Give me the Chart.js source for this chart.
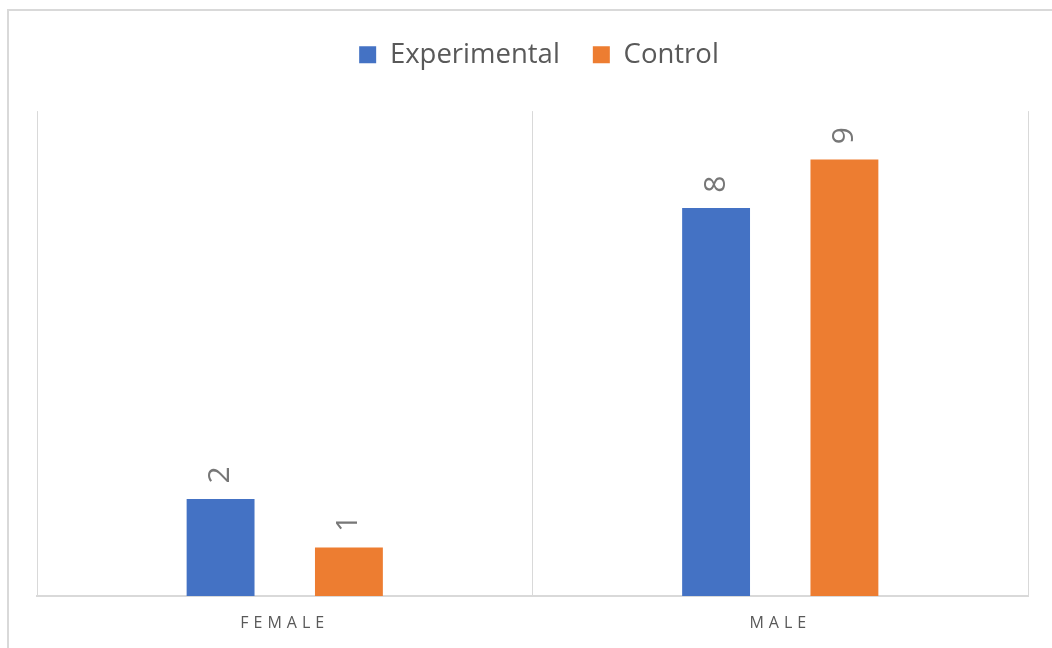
<!DOCTYPE html>
<html>
<head>
<meta charset="utf-8">
<script src="https://cdn.jsdelivr.net/npm/chart.js@4/dist/chart.umd.min.js"></script>
<style>
  html, body { margin: 0; padding: 0; background: #ffffff; }
  #wrap { position: relative; width: 1052px; height: 648px; overflow: hidden; }
  #frame { position: absolute; left: 7px; top: 9px; width: 1200px; height: 800px; border: 2px solid #d9d9d9; box-sizing: border-box; }
  canvas { position: absolute; left: 0; top: 0; }
</style>
</head>
<body>
<div id="wrap">
  <div id="frame"></div>
  <canvas id="c" width="1052" height="648"></canvas>
</div>
<script>
const categories = ["FEMALE", "MALE"];
const seriesNames = ["Experimental", "Control"];
const experimental = [2, 8];
const control = [1, 9];
const yMin = 0;
const yMax = 10;

const FONT = "'Open Sans', 'Noto Sans', sans-serif";

const legendSpacing = {
  id: 'legendSpacing',
  beforeInit(chart) {
    const legend = chart.legend;
    if (!legend) return;
    const fit = legend.fit;
    legend.fit = function () {
      fit.bind(legend)();
      this.height += 32.6;
    };
  },
  afterLayout(chart) {
    const legend = chart.legend;
    if (legend) { legend.left += 6.5; legend.right += 6.5; }
    const s = chart.scales.x;
    if (s && !s._lsWrapped) {
      const orig = s.drawLabels.bind(s);
      s.drawLabels = function (area) {
        const c = this.ctx;
        c.save();
        c.letterSpacing = '5px';
        orig(area);
        c.restore();
      };
      s._lsWrapped = true;
    }
  }
};

const barLabels = {
  id: 'barLabels',
  afterDatasetsDraw(chart) {
    const ctx = chart.ctx;
    chart.data.datasets.forEach((ds, di) => {
      const meta = chart.getDatasetMeta(di);
      meta.data.forEach((el, i) => {
        ctx.save();
        ctx.translate(el.x, el.y - 24);
        ctx.rotate(-Math.PI / 2);
        ctx.font = "30px " + FONT;
        ctx.fillStyle = '#777777';
        ctx.textAlign = 'center';
        ctx.textBaseline = 'middle';
        ctx.fillText(String(ds.data[i]), 0, 0);
        ctx.restore();
      });
    });
  }
};

new Chart(document.getElementById('c'), {
  type: 'bar',
  data: {
    labels: categories,
    datasets: [
      { label: seriesNames[0], data: experimental, backgroundColor: '#4472C4', borderWidth: 0 },
      { label: seriesNames[1], data: control, backgroundColor: '#ED7D31', borderWidth: 0 }
    ]
  },
  options: {
    responsive: false,
    animation: false,
    devicePixelRatio: 1,
    categoryPercentage: 0.518,
    barPercentage: 0.529,
    layout: { padding: { left: 37, right: 24, top: 8, bottom: 0 } },
    plugins: {
      legend: {
        display: true,
        position: 'top',
        labels: {
          boxWidth: 17,
          boxHeight: 17,
          padding: 33,
          color: '#595959',
          font: { family: FONT, size: 27.5 }
        }
      },
      tooltip: { enabled: false }
    },
    scales: {
      x: {
        afterFit(scale) { scale.height = 52; },
        grid: { display: true, offset: true, color: '#d9d9d9', lineWidth: 1, drawTicks: false },
        border: { display: true, color: '#d9d9d9', width: 2 },
        ticks: { color: '#595959', padding: 18, font: { family: FONT, size: 16 } }
      },
      y: {
        display: false,
        min: yMin,
        max: yMax
      }
    }
  },
  plugins: [legendSpacing, barLabels]
});
</script>
</body>
</html>
